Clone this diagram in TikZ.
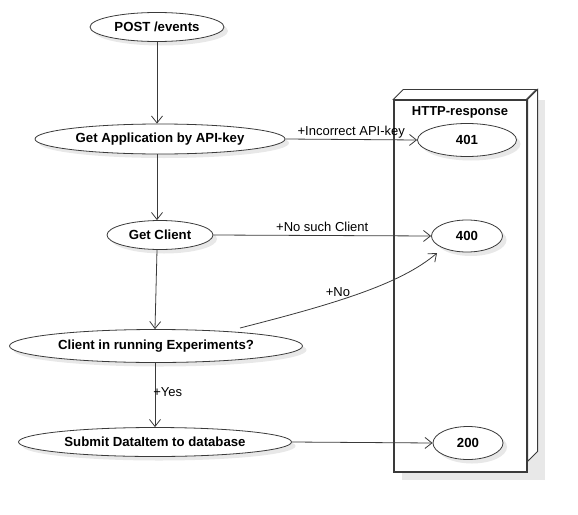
\documentclass[tikz,border=0pt]{standalone}
\usepackage{fontspec}
\setmainfont{Liberation Sans}
\usetikzlibrary{shapes.geometric,arrows.meta,shadows}
\definecolor{linec}{HTML}{3A3A3A}
\definecolor{shadowc}{HTML}{E8E8E8}
\tikzset{
  act/.style={ellipse, draw=linec, fill=white, inner sep=0pt, line width=0.8pt,
    font=\fontsize{13.2}{15}\selectfont\bfseries,
    drop shadow={shadow xshift=4pt, shadow yshift=-4pt, fill=shadowc, opacity=1}},
  flow/.style={draw=linec, line width=0.8pt, -{Straight Barb[length=7pt,width=11pt]}},
  lbl/.style={font=\fontsize{13}{15}\selectfont, text=black, inner sep=1pt}
}
\begin{document}
\begin{tikzpicture}[x=1pt,y=-1pt]
\useasboundingbox (0,0) rectangle (578,514);
% HTTP-response box
\fill[shadowc] (402,100) -- (545,100) -- (545,480) -- (402,480) -- cycle;
\node (resp) [draw=linec, fill=white, line width=1.2pt, minimum width=133pt, minimum height=372pt, inner sep=0pt] at (460.5,286) {};
\draw[linec, line width=0.8pt, fill=white] (resp.north west) -- ++(10,-10) -- ++(133,0) -- ++(-10,10) -- cycle;
\draw[linec, line width=0.8pt, fill=white] (resp.north east) -- ++(10,-10) -- ++(0,362) -- ++(-10,10) -- cycle;
\draw[linec, line width=1.2pt] (resp.north west) rectangle (resp.south east);
\node (resptitle) [font=\fontsize{13}{15}\selectfont\bfseries] at (460,112) {HTTP-response};

% activities
\node (post) [act, minimum width=134pt, minimum height=29pt] at (157,27) {POST /events};
\node (getapp) [act, minimum width=250pt, minimum height=30pt] at (160,139) {Get Application by API-key};
\node (getcl) [act, minimum width=106pt, minimum height=29pt] at (160,235) {Get Client};
\node (cir) [act, minimum width=293pt, minimum height=33pt] at (156,346) {Client in running Experiments?};
\node (sub) [act, minimum width=273pt, minimum height=29pt] at (155,442) {Submit DataItem to database};

\node (r401) [act, minimum width=99pt, minimum height=33pt] at (467,140) {401};
\node (r400) [act, minimum width=71pt, minimum height=32pt] at (467,236) {400};
\node (r200) [act, minimum width=70pt, minimum height=33pt] at (468,443) {200};

\coordinate (noStart) at (240,328);
\coordinate (noEnd) at (437,253);

% flows
\draw[flow] (post.south) -- (post.south |- getapp.north);
\draw[flow] (getapp.south -| post.south) -- (getcl.north -| post.south);
\draw[flow] (getcl.south -| post.south) -- (cir.north -| sub.south);
\draw[flow] (cir.south -| sub.south) -- node[lbl, pos=0.45, right=-3pt] {+Yes} (sub.north);
\draw[flow] (getapp.east) -- node[lbl, above, pos=0.5, xshift=0pt] {+Incorrect API-key} (r401.west);
\draw[flow] (getcl.east) -- node[lbl, above, pos=0.5, yshift=2pt] {+No such Client} (r400.west);
\draw[flow] (noStart) .. controls (330,305) and (400,285) .. (noEnd);
\node (nolbl) [lbl] at (338,292) {+No};
\draw[flow] (sub.east) -- (r200.west);
\end{tikzpicture}
\end{document}
